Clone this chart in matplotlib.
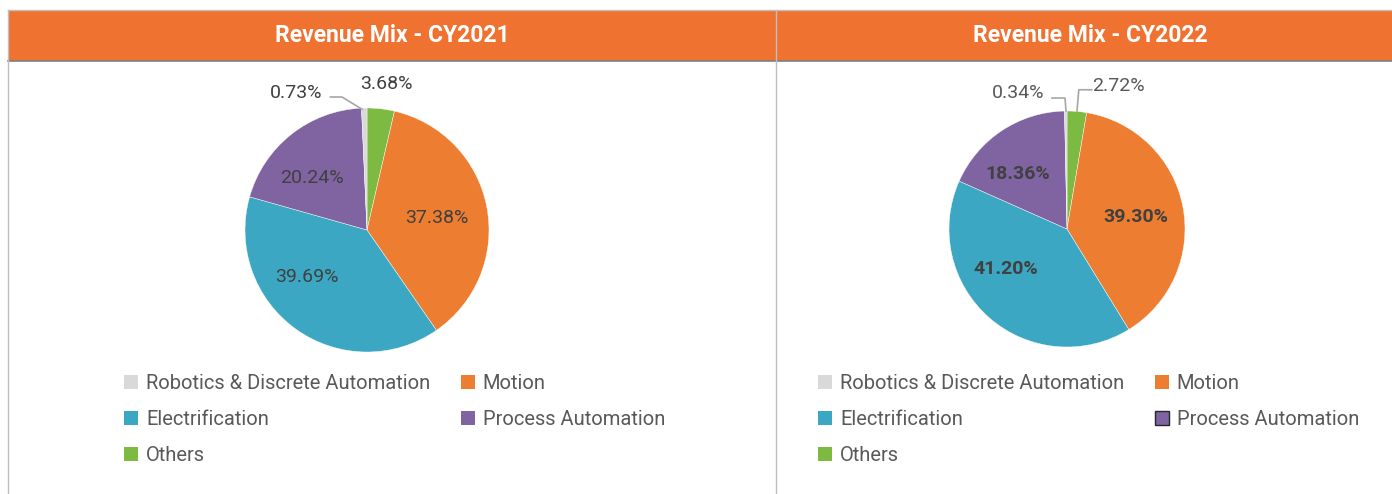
import matplotlib.pyplot as plt
from matplotlib.patches import Rectangle, Patch

# Données (ordre horaire depuis 12h)
segments = ['Others', 'Motion', 'Electrification', 'Process Automation', 'Robotics & Discrete Automation']
values_2021 = [3.68, 37.38, 39.69, 20.24, 0.73]
values_2022 = [2.72, 39.30, 41.20, 18.36, 0.34]
titles = ['Revenue Mix - CY2021', 'Revenue Mix - CY2022']
legend_order = ['Robotics & Discrete Automation', 'Electrification', 'Others', 'Motion', 'Process Automation']

colors = {
    'Robotics & Discrete Automation': '#D9D9D9',
    'Motion': '#ED7D31',
    'Electrification': '#3BA7C2',
    'Process Automation': '#8064A2',
    'Others': '#7DBA42',
}

W, H = 1392, 494
plt.rcParams['font.family'] = ['Roboto', 'DejaVu Sans']
fig = plt.figure(figsize=(W / 100, H / 100), dpi=100)

# bandeau orange + bordures
fig.patches.append(Rectangle((8 / W, (H - 61) / H), (W - 8) / W, 51 / H, transform=fig.transFigure,
                             facecolor='#F07230', edgecolor='none', zorder=0))
fig.add_artist(plt.Line2D([8 / W, 1], [(H - 10) / H] * 2, color='#BFBFBF', lw=1))
fig.add_artist(plt.Line2D([8 / W, 1], [(H - 61) / H] * 2, color='#7F7F7F', lw=1.2))
for xp in [8, 776]:
    fig.add_artist(plt.Line2D([xp / W] * 2, [0, (H - 10) / H], color='#BFBFBF', lw=1))

for tx, t in zip([392, 1090], titles):
    fig.text(tx / W, (H - 36) / H, t, color='white', fontsize=16.5, fontweight='bold',
             ha='center', va='center')


def draw_pie(cx, cy, R, values):
    half = 1.6 * R
    ax = fig.add_axes([(cx - half) / W, (H - cy - half) / H, 2 * half / W, 2 * half / H])
    ax.pie(values, colors=[colors[s] for s in segments], startangle=90, counterclock=False,
           radius=1, wedgeprops=dict(edgecolor='white', linewidth=0.3))
    ax.set_xlim(-1.6, 1.6)
    ax.set_ylim(-1.6, 1.6)
    ax.axis('off')
    return ax


# 2021
ax1 = draw_pie(367, 230, 122, values_2021)
for v, (x, y) in zip(values_2021[1:4], [(0.57, 0.10), (-0.49, -0.385), (-0.45, 0.43)]):
    ax1.text(x, y, f'{v:.2f}%', ha='center', va='center', fontsize=14, color='#404040')
ax1.text(0.16, 1.20, f'{values_2021[0]:.2f}%', ha='center', va='center', fontsize=14, color='#404040')
ax1.text(-0.58, 1.12, f'{values_2021[4]:.2f}%', ha='center', va='center', fontsize=14, color='#404040')
ax1.plot([-0.30, -0.205, -0.041], [1.09, 1.09, 0.99], color='#A6A6A6', lw=1.2)

# 2022
ax2 = draw_pie(1067, 229, 118, values_2022)
for v, (x, y) in zip(values_2022[1:4], [(0.58, 0.10), (-0.52, -0.34), (-0.42, 0.47)]):
    ax2.text(x, y, f'{v:.2f}%', ha='center', va='center', fontsize=14, color='#404040', fontweight='bold')
ax2.text(0.44, 1.21, f'{values_2022[0]:.2f}%', ha='center', va='center', fontsize=14, color='#595959')
ax2.text(-0.415, 1.15, f'{values_2022[4]:.2f}%', ha='center', va='center', fontsize=14, color='#595959')
ax2.plot([-0.127, -0.017, -0.008], [1.11, 1.11, 1.0], color='#A6A6A6', lw=1.2)
ax2.plot([0.21, 0.10, 0.085], [1.18, 1.18, 1.0], color='#A6A6A6', lw=1.2)

# légendes
for lx, edge_pa in [(124, False), (818, True)]:
    handles = []
    for s in legend_order:
        ec = '#262626' if (edge_pa and s == 'Process Automation') else 'none'
        handles.append(Patch(facecolor=colors[s], edgecolor=ec, label=s))
    fig.legend(handles=handles, loc='upper left', bbox_to_anchor=(lx / W, (H - 374) / H),
               ncol=2, frameon=False, fontsize=14.5, labelcolor='#595959',
               handlelength=0.7, handleheight=0.7, handletextpad=0.4,
               columnspacing=1.5, labelspacing=0.85, borderaxespad=0, borderpad=0)

plt.savefig('out.png', dpi=100)
